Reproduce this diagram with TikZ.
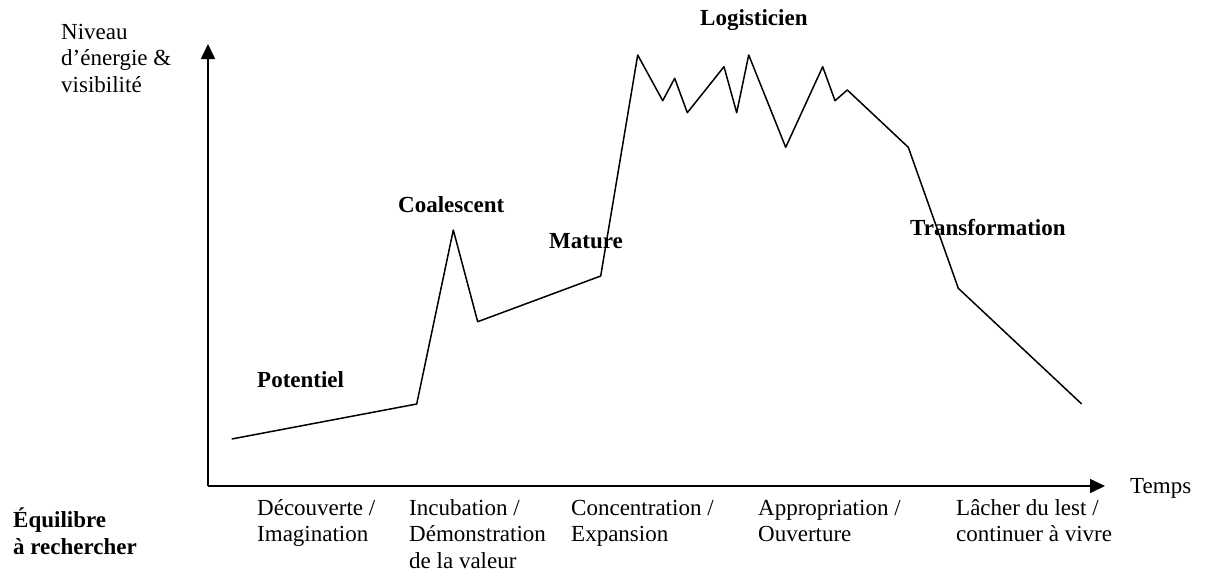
\documentclass[tikz,border=0pt]{standalone}
\usepackage{fontspec}
\setmainfont{Liberation Serif}
\usetikzlibrary{arrows.meta}
\begin{document}
\begin{tikzpicture}[x=1pt,y=-1pt,
  lbl/.style={font=\fontsize{23}{26.5}\selectfont, inner sep=0pt, anchor=base west, align=left},
  blbl/.style={lbl, font=\fontsize{23}{26.5}\selectfont\bfseries},
  axisline/.style={line width=1.6pt, -{Triangle[length=15pt,width=14pt]}},
  curveline/.style={line width=1.5pt, line join=round}]
\useasboundingbox (0,0) rectangle (1208,571);
% axes
\coordinate (O) at (208,486);
\coordinate (ytop) at (208,44);
\coordinate (xend) at (1105,486);
\draw[axisline] (O) -- (ytop);
\draw[axisline] (O) -- (xend);
% curve
\draw[curveline] (231.7,439) -- (416.7,404) -- (453.3,230) -- (477.7,321.7) -- (600.7,276)
  -- (637.7,55) -- (662.7,100.7) -- (674.7,78.3) -- (687.3,112.7) -- (724,66.7)
  -- (736.7,112.7) -- (748.7,55) -- (785.7,147.3) -- (822.7,66.7) -- (835,100.7)
  -- (847.3,90) -- (908.3,147.3) -- (958.3,288.3) -- (1081.7,404);
% axis titles (base anchor = baseline of last line)
\node[lbl] (yl) at (61,92) {Niveau\\d’énergie \&\\visibilité};
\node[lbl] (xl) at (1130,493) {Temps};
% phase names
\node[blbl] (pot) at (257,387) {Potentiel};
\node[blbl] (coa) at (398,212) {Coalescent};
\node[blbl] (mat) at (549,248) {Mature};
\node[blbl] (log) at (700,25) {Logisticien};
\node[blbl] (tra) at (910,235) {Transformation};
% balance
\node[blbl] (equ) at (13,554) {Équilibre\\à rechercher};
\node[lbl] (b1) at (257,541.5) {Découverte /\\Imagination};
\node[lbl] (b2) at (409,568) {Incubation /\\Démonstration\\de la valeur};
\node[lbl] (b3) at (571,541.5) {Concentration /\\Expansion};
\node[lbl] (b4) at (758,541.5) {Appropriation /\\Ouverture};
\node[lbl] (b5) at (956,541.5) {Lâcher du lest /\\continuer à vivre};
\end{tikzpicture}
\end{document}
